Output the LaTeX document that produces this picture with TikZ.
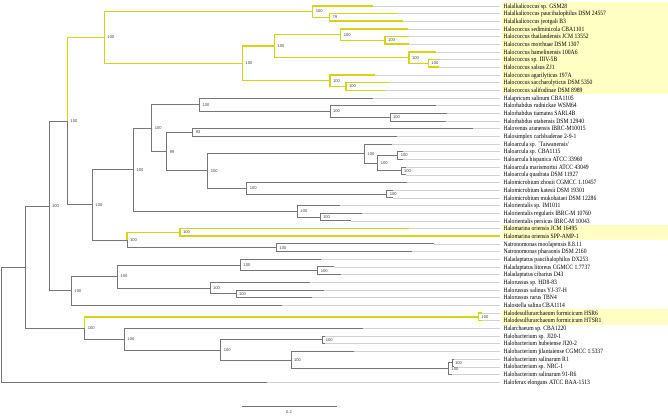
\documentclass[tikz,border=0pt]{standalone}
\usepackage{fontspec}
\setmainfont{Liberation Serif}
\newfontfamily\labfont[FakeStretch=0.86]{Liberation Serif}
\newfontfamily\supfont{Liberation Sans}
\usetikzlibrary{calc}
\definecolor{brgrey}{RGB}{118,118,118}
\definecolor{ylw}{RGB}{212,212,20}
\definecolor{hl}{RGB}{255,255,196}
\definecolor{ldr}{RGB}{210,210,210}
\tikzset{
 gbr/.style={draw=brgrey, line width=0.9pt},
 ybr/.style={draw=ylw, line width=1.5pt},
 ldrline/.style={draw=ldr, line width=0.5pt},
 lab/.style={anchor=base west, inner sep=0pt, font=\labfont\fontsize{6.6}{7}\selectfont, text=black},
 sup/.style={anchor=west, inner sep=0pt, font=\supfont\fontsize{4.1}{4.5}\selectfont, text=black!75},
 hlbox/.style={fill=hl, draw=none},
}
\newcommand\leaf[3]{%
 \coordinate (t#1) at (#2,{5.8+(#1-1)*7.68});
 \coordinate (e#1) at (500,{5.8+(#1-1)*7.68});
 \node[lab] (n#1) at (503.3,{8.0+(#1-1)*7.68}) {#3};
}
\newcommand\inode[4]{%
 \coordinate (#1m) at ($(#3)!0.5!(#4)$);
 \coordinate (#1) at (#2,0 |- #1m);
}
\newcommand\bsv[2]{\node[sup] (b#1) at ([xshift=3]#1) {#2};}
\begin{document}
\begin{tikzpicture}[x=1bp,y=-1bp]
\useasboundingbox (0,0) rectangle (668,415);
% highlight boxes
\fill[hlbox] (501.7,1.9) rectangle (668,94.2);
\fill[hlbox] (501.7,224.6) rectangle (668,240.1);
\fill[hlbox] (501.7,309.1) rectangle (668,324.6);
% leaves
\leaf{1}{373.3}{Halalkalicoccus sp. GSM28}
\leaf{2}{396.7}{Halalkalicoccus paucihalophilus DSM 24557}
\leaf{3}{403}{Halalkalicoccus jeotgali B3}
\leaf{4}{408.3}{Halococcus sediminicola CBA1101}
\leaf{5}{409.3}{Halococcus thailandensis JCM 13552}
\leaf{6}{409.3}{Halococcus morrhuae DSM 1307}
\leaf{7}{436}{Halococcus hamelinensis 100A6}
\leaf{8}{439.3}{Halococcus sp. IIIV-5B}
\leaf{9}{439.3}{Halococcus salsus ZJ1}
\leaf{10}{375}{Halococcus agarilyticus 197A}
\leaf{11}{389.3}{Halococcus saccharolyticus DSM 5350}
\leaf{12}{385}{Halococcus salifodinae DSM 8989}
\leaf{13}{373.3}{Halapricum salinum CBA1105}
\leaf{14}{436}{Halorhabdus rudnickae WSM64}
\leaf{15}{446.7}{Halorhabdus tiamatea SARL4B}
\leaf{16}{445.7}{Halorhabdus utahensis DSM 12940}
\leaf{17}{472.7}{Halovenus aranensis IBRC-M10015}
\leaf{18}{396.7}{Halosimplex carlsbadense 2-9-1}
\leaf{19}{392.3}{Haloarcula sp. `Taiwanensis'}
\leaf{20}{402.7}{Haloarcula sp. CBA1115}
\leaf{21}{402.7}{Haloarcula hispanica ATCC 33960}
\leaf{22}{406}{Haloarcula marismortui ATCC 43049}
\leaf{23}{406}{Haloarcula quadrata DSM 11927}
\leaf{24}{406.7}{Halomicrobium zhouii CGMCC 1.10457}
\leaf{25}{393}{Halomicrobium katesii DSM 19301}
\leaf{26}{393}{Halomicrobium mukohataei DSM 12286}
\leaf{27}{340}{Halorientalis sp. IM1011}
\leaf{28}{361.7}{Halorientalis regularis IBRC-M 10760}
\leaf{29}{350.7}{Halorientalis persicus IBRC-M 10043}
\leaf{30}{409}{Halomarina oriensis JCM 16495}
\leaf{31}{500}{Halomarina oriensis SPP-AMP-1}
\leaf{32}{434}{Natronomonas moolapensis 8.8.11}
\leaf{33}{411.7}{Natronomonas pharaonis DSM 2160}
\leaf{34}{320.7}{Haladaptatus paucihalophilus DX253}
\leaf{35}{334}{Haladaptatus litoreus CGMCC 1.7737}
\leaf{36}{340.7}{Haladaptatus cibarius D43}
\leaf{37}{310}{Halorussus sp. HD8-83}
\leaf{38}{324}{Halorussus salinus YJ-37-H}
\leaf{39}{311.7}{Halorussus rarus TBN4}
\leaf{40}{281.7}{Halostella salina CBA1114}
\leaf{41}{481.7}{Halodesulfurarchaeum formicicum HSR6}
\leaf{42}{481.7}{Halodesulfurarchaeum formicicum HTSR1}
\leaf{43}{363.3}{Halarchaeum sp. CBA1220}
\leaf{44}{325}{Halobacterium sp. JI20-1}
\leaf{45}{325}{Halobacterium hubeiense JI20-2}
\leaf{46}{354}{Halobacterium jilantaiense CGMCC 1.5337}
\leaf{47}{454}{Halobacterium salinarum R1}
\leaf{48}{454}{Halobacterium sp. NRC-1}
\leaf{49}{451.7}{Halobacterium salinarum 91-R6}
\leaf{50}{267}{Haloferax elongans ATCC BAA-1513}
% leader lines
\foreach \i in {1,...,30,32,33,...,50} {\draw[ldrline] (t\i) -- (e\i);}
% internal nodes
\inode{G}{329.3}{t2}{t3}
\inode{F}{312.7}{t1}{G}
\inode{N}{385}{t5}{t6}
\inode{L}{340.7}{t4}{N}
\inode{O}{428.3}{t8}{t9}
\inode{M}{409}{t7}{O}
\inode{I}{274.3}{L}{M}
\inode{K}{346}{t11}{t12}
\inode{J}{330}{t10}{K}
\inode{H}{242.3}{I}{J}
\inode{D}{104.3}{F}{H}
\inode{Q}{390}{t15}{t16}
\inode{T}{330}{t14}{Q}
\inode{P}{199.3}{t13}{T}
\inode{V}{192.7}{t17}{t18}
\inode{ZA}{397.7}{t20}{t21}
\inode{ZB}{401}{t22}{t23}
\inode{Y}{377.7}{ZA}{ZB}
\inode{X}{364.3}{t19}{Y}
\inode{AB}{386.7}{t25}{t26}
\inode{AA}{246.7}{t24}{AB}
\inode{W}{207.7}{X}{AA}
\inode{U}{166.7}{V}{W}
\inode{S}{151.7}{P}{U}
\inode{AD}{320}{t28}{t29}
\inode{AC}{297.3}{t27}{AD}
\inode{R}{133.3}{S}{AC}
\inode{AF}{180}{t30}{t31}
\inode{AG}{276.3}{t32}{t33}
\inode{AE}{127}{AF}{AG}
\inode{E}{92.3}{R}{AE}
\inode{C}{67.3}{D}{E}
\inode{AK}{317.7}{t35}{t36}
\inode{AJ}{240.3}{t34}{AK}
\inode{AM}{236}{t38}{t39}
\inode{AL}{210}{t37}{AM}
\inode{AI}{117.3}{AJ}{AL}
\inode{AH}{71.3}{AI}{t40}
\inode{B}{49}{C}{AH}
\inode{AO}{478.3}{t41}{t42}
\inode{AR}{322.7}{t44}{t45}
\inode{AU}{452}{t47}{t48}
\inode{AT}{448.3}{AU}{t49}
\inode{AS}{291}{t46}{AT}
\inode{AQ}{220.7}{AR}{AS}
\inode{AP}{124.3}{t43}{AQ}
\inode{AN}{84.7}{AO}{AP}
\inode{A}{25.7}{B}{AN}
\inode{root}{1.5}{A}{t50}
% grey branches
\foreach \p/\c in {root/A, root/t50, A/B, A/AN, B/C, B/AH, C/E,
  E/R, E/AE, R/S, R/AC, S/P, S/U, P/t13, P/T, T/t14, T/Q, Q/t15, Q/t16,
  U/V, U/W, V/t17, V/t18, W/X, W/AA, X/t19, X/Y, Y/ZA, Y/ZB, ZA/t20, ZA/t21,
  ZB/t22, ZB/t23, AA/t24, AA/AB, AB/t25, AB/t26, AC/t27, AC/AD, AD/t28, AD/t29,
  AE/AG, AG/t32, AG/t33, AH/AI, AH/t40, AI/AJ, AI/AL, AJ/t34, AJ/AK, AK/t35, AK/t36,
  AL/t37, AL/AM, AM/t38, AM/t39, AN/AP, AP/t43, AP/AQ, AQ/AR, AQ/AS, AR/t44, AR/t45,
  AS/t46, AS/AT, AT/AU, AT/t49, AU/t47, AU/t48}
  {\draw[gbr] (\p) |- (\c);}
% yellow branches
\foreach \p/\c in {C/D, D/F, D/H, F/t1, F/G, G/t2, G/t3, H/I, H/J, I/L, I/M,
  L/t4, L/N, N/t5, N/t6, M/t7, M/O, O/t8, O/t9, J/t10, J/K, K/t11, K/t12,
  AE/AF, AF/t30, AF/t31, AN/AO, AO/t41, AO/t42}
  {\draw[ybr] (\p) |- (\c);}
% support values
\bsv{D}{100}\bsv{F}{100}\bsv{G}{79}\bsv{H}{100}\bsv{I}{100}\bsv{L}{100}
\bsv{N}{100}\bsv{M}{100}\bsv{O}{100}\bsv{J}{100}\bsv{K}{100}\bsv{C}{100}
\bsv{B}{100}\bsv{E}{100}\bsv{R}{100}\bsv{S}{100}\bsv{P}{100}\bsv{T}{100}
\bsv{Q}{100}\bsv{U}{99}\bsv{V}{93}\bsv{W}{100}\bsv{X}{100}\bsv{Y}{100}
\bsv{ZA}{100}\bsv{ZB}{100}\bsv{AA}{100}\bsv{AB}{100}\bsv{AC}{100}\bsv{AD}{100}
\bsv{AE}{100}\bsv{AF}{100}\bsv{AG}{100}\bsv{AH}{100}\bsv{AI}{100}\bsv{AJ}{100}
\bsv{AK}{100}\bsv{AL}{100}\bsv{AM}{100}\bsv{AN}{100}\bsv{AO}{100}\bsv{AP}{100}
\bsv{AQ}{100}\bsv{AR}{100}\bsv{AS}{100}\bsv{AT}{100}\bsv{AU}{100}
% scale bar
\coordinate (sbA) at (241.7,406);
\coordinate (sbB) at (336.7,406);
\draw[gbr] (sbA) -- (sbB);
\node[sup, anchor=center] (sbl) at (289,412) {0.2};
\end{tikzpicture}
\end{document}
